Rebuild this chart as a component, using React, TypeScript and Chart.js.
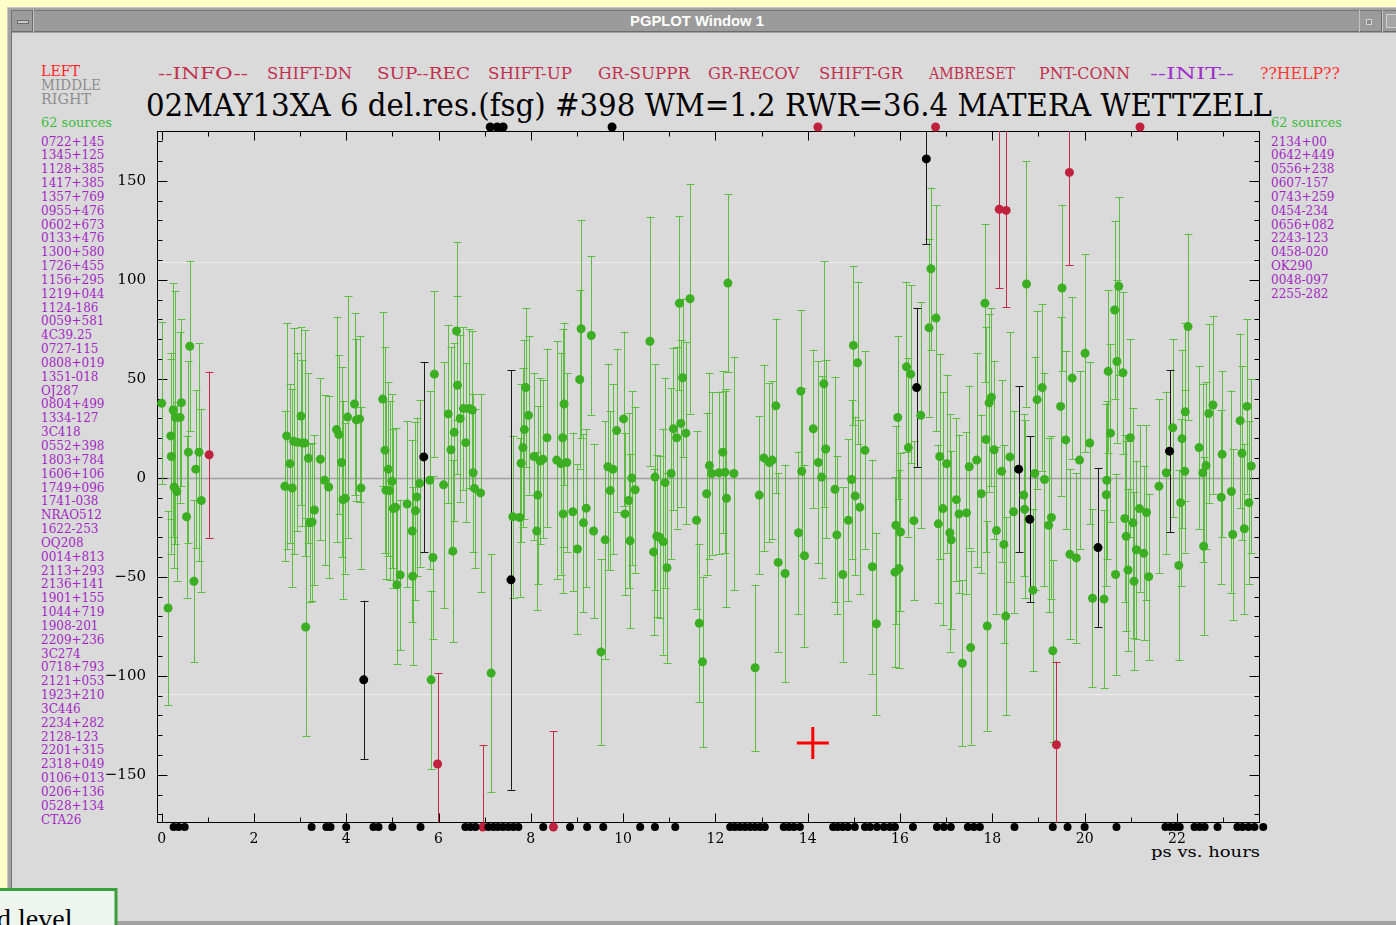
import React, { useEffect, useRef } from "react";
import { Chart, registerables } from "chart.js";

Chart.register(...registerables);

// Plot window limits (ps on y, hours on x)
const Y_MIN = -174.3;
const Y_MAX = 175.2;
const X_MIN = -0.1;
const X_MAX = 23.8;
const EDGE = 2; // off-scale points are parked just outside the frame
const GUIDE_LEVEL = 109; // light guide lines at +/- this residual

// Good (weighted) observations: time, residual, formal error
const greenHours = [
  0.0, 0.14, 0.2, 0.21, 0.25, 0.27, 0.3, 0.33, 0.4, 0.43,
  0.54, 0.58, 0.61, 0.7, 0.74, 0.81, 0.86, 2.67, 2.71, 2.78,
  2.83, 2.86, 2.94, 3.02, 3.05, 3.1, 3.12, 3.18, 3.21, 3.26,
  3.31, 3.44, 3.53, 3.62, 3.79, 3.84, 3.9, 3.93, 3.98, 4.03,
  4.18, 4.22, 4.29, 4.32, 4.79, 4.84, 4.86, 4.91, 4.94, 4.99,
  5.02, 5.07, 5.1, 5.17, 5.32, 5.43, 5.44, 5.5, 5.53, 5.59,
  5.81, 5.84, 5.88, 5.91, 6.11, 6.21, 6.27, 6.31, 6.34, 6.39,
  6.41, 6.47, 6.54, 6.59, 6.67, 6.73, 6.75, 6.78, 6.91, 7.14,
  7.61, 7.76, 7.79, 7.83, 7.86, 7.89, 7.95, 8.07, 8.13, 8.15,
  8.2, 8.26, 8.35, 8.56, 8.65, 8.69, 8.7, 8.72, 8.78, 8.91,
  9.01, 9.06, 9.09, 9.14, 9.2, 9.31, 9.36, 9.52, 9.61, 9.67,
  9.72, 9.78, 9.86, 10.01, 10.04, 10.12, 10.15, 10.19, 10.26, 10.58,
  10.66, 10.69, 10.73, 10.79, 10.87, 10.91, 10.95, 11.04, 11.09, 11.16,
  11.22, 11.25, 11.29, 11.36, 11.45, 11.59, 11.65, 11.72, 11.81, 11.87,
  11.92, 12.08, 12.16, 12.21, 12.24, 12.27, 12.4, 12.86, 12.95, 13.05,
  13.17, 13.23, 13.31, 13.36, 13.51, 13.8, 13.85, 13.87, 13.93, 14.12,
  14.23, 14.3, 14.35, 14.39, 14.59, 14.63, 14.76, 14.88, 14.95, 14.99,
  15.03, 15.08, 15.13, 15.24, 15.4, 15.49, 15.89, 15.91, 15.95, 15.98,
  16.01, 16.14, 16.18, 16.23, 16.3, 16.45, 16.63, 16.67, 16.78, 16.83,
  16.86, 16.93, 17.01, 17.08, 17.11, 17.22, 17.28, 17.35, 17.44, 17.5,
  17.53, 17.66, 17.76, 17.84, 17.86, 17.89, 17.93, 17.98, 18.04, 18.09,
  18.2, 18.25, 18.29, 18.38, 18.46, 18.68, 18.7, 18.74, 18.88, 18.92,
  18.97, 19.08, 19.13, 19.22, 19.28, 19.31, 19.48, 19.51, 19.59, 19.68,
  19.73, 19.82, 19.89, 20.01, 20.11, 20.17, 20.42, 20.47, 20.48, 20.51,
  20.56, 20.65, 20.67, 20.7, 20.74, 20.83, 20.87, 20.9, 20.94, 20.99,
  21.05, 21.07, 21.12, 21.19, 21.28, 21.34, 21.39, 21.61, 21.77, 21.91,
  22.04, 22.08, 22.11, 22.17, 22.18, 22.24, 22.48, 22.56, 22.58, 22.63,
  22.69, 22.78, 22.96, 22.98, 23.18, 23.21, 23.37, 23.41, 23.46, 23.52, 23.56, 23.61,
];
const greenValues = [
  37.7, -65.7, 21.2, 10.8, 34.3, -4.6, 30.5, -6.9, 30.5, 38.0,
  -19.6, 13.0, 66.5, -52.2, 4.4, 13.0, -11.4, -4.2, 21.2, 7.2,
  -5.1, 18.5, 18.0, 31.2, 17.6, 17.6, -75.3, 9.9, -22.7, -22.3,
  -16.2, 9.4, -1.2, -4.6, 24.4, 21.9, 7.8, -11.0, -10.3, 30.7,
  37.3, 29.3, 29.8, -5.1, 39.8, 14.0, -6.2, 4.4, -6.4, -1.7,
  -15.5, -14.8, -54.0, -49.0, -13.2, -26.8, -49.7, -16.6, -9.6, -2.8,
  -1.2, -102.0, -40.2, 52.4, -3.5, 32.3, 14.2, -37.0, 23.0, 74.2,
  46.8, 30.0, 35.0, 17.8, 35.0, 34.3, 2.6, -5.3, -7.6, -98.6,
  -19.6, -20.0, 7.4, 15.3, 24.4, 45.6, 31.6, 10.8, -26.8, -8.7,
  8.5, 9.4, 20.3, 9.0, 7.2, 20.3, -18.2, 37.3, 7.8, -17.1,
  -35.9, 49.7, 75.3, -22.7, -15.3, 71.9, -26.8, -87.9, -31.3, 5.6,
  -6.4, 4.4, 23.9, 29.8, -18.2, -11.4, -31.8, -0.1, -6.0, 69.0,
  -37.4, 0.4, -29.5, -30.0, -32.2, -2.4, -45.4, 2.2, 24.8, 20.3,
  88.2, 27.5, 50.6, 22.6, 90.5, -21.4, -73.4, -92.9, -8.0, 6.2,
  2.2, 2.6, 13.0, 2.9, -10.3, 98.4, 2.2, -95.9, -8.7, 10.1,
  7.8, 9.0, 36.4, -42.7, -48.3, -27.7, 43.8, 3.3, -39.3, 24.8,
  7.8, 0.4, 47.5, 14.6, -5.8, -28.8, -48.8, -21.4, -0.8, 66.9,
  -9.1, 58.1, -14.8, 13.9, -44.9, -73.7, -47.6, -23.9, 30.5, -45.8,
  -27.3, 56.1, 15.3, 52.4, -21.6, 31.6, 75.8, 105.6, 80.7, -23.2,
  10.8, -15.5, 7.2, -27.7, -31.3, -11.0, -18.2, -93.6, -17.7, 5.6,
  -85.7, 9.0, -8.0, 88.2, 19.4, -74.8, 37.9, 40.7, 14.2, -26.6,
  3.3, -33.6, -69.8, 10.6, -17.1, -8.7, -15.9, 97.9, -56.7, 2.2,
  39.5, 45.6, -0.8, -23.9, -20.0, -87.3, 36.1, 95.9, 19.2, -38.6,
  50.4, -40.4, 9.0, 62.9, 17.6, -60.8, -61.2, -8.5, -1.2, 53.8,
  22.6, 84.8, -48.8, 58.8, 96.8, 53.1, -20.5, -29.5, -46.5, 20.3,
  -22.7, -52.2, -36.3, -15.5, -38.1, -17.5, -49.9, -4.2, 2.6, 25.3,
  -44.2, -12.5, 19.8, 3.3, 33.4, 76.4, 15.3, 2.6, -34.5, 6.2,
  32.5, 36.8, -9.8, 11.9, -6.9, -28.6, 28.9, 12.4, -25.7, 36.1, -12.5, 6.0,
];
const greenErrors = [
  41, 49, 42, 49, 64, 41, 64, 45, 43, 42,
  41, 46, 43, 41, 40, 55, 46, 38, 57, 40,
  50, 57, 45, 45, 42, 57, 55, 43, 40, 40,
  38, 41, 43, 46, 57, 40, 48, 50, 38, 61,
  46, 41, 42, 41, 44, 52, 45, 44, 45, 44,
  40, 40, 40, 38, 42, 46, 45, 45, 40, 42,
  45, 45, 41, 42, 62, 45, 52, 46, 45, 45,
  45, 42, 41, 40, 40, 40, 40, 40, 50, 60,
  41, 40, 40, 40, 45, 40, 40, 42, 40, 45,
  42, 40, 45, 60, 56, 55, 40, 41, 45, 40,
  43, 45, 55, 45, 40, 40, 44, 47, 60, 52,
  40, 43, 41, 44, 41, 44, 44, 44, 42, 63,
  42, 57, 41, 41, 57, 53, 48, 43, 41, 46,
  44, 42, 40, 46, 58, 45, 40, 43, 41, 47,
  41, 41, 41, 41, 55, 45, 59, 42, 40, 47,
  40, 40, 44, 45, 55, 41, 41, 42, 46, 40,
  51, 51, 62, 45, 57, 40, 44, 41, 40, 40,
  40, 41, 44, 50, 54, 46, 48, 50, 41, 50,
  40, 43, 45, 45, 40, 57, 45, 41, 57, 40,
  52, 59, 45, 60, 45, 41, 40, 42, 41, 41,
  49, 54, 40, 40, 57, 53, 45, 45, 45, 42,
  46, 50, 50, 63, 51, 41, 45, 62, 41, 59,
  45, 42, 54, 44, 41, 46, 45, 42, 45, 43,
  41, 43, 45, 50, 41, 45, 45, 46, 40, 41,
  45, 45, 51, 41, 45, 41, 42, 48, 41, 50,
  58, 45, 45, 42, 44, 44, 42, 44, 41, 45,
  48, 42, 45, 41, 45, 47, 41, 45, 45, 42,
  45, 45, 44, 42, 51, 43, 44, 44, 43, 44, 41, 44,
];

// Unweighted observations
const blackHours = [4.38, 5.68, 7.57, 16.36, 16.57, 18.57, 18.81, 20.29, 21.84];
const blackValues = [-102.0, 10.6, -51.5, 45.6, 161.1, 4.4, -20.9, -35.2, 13.5];
const blackErrors = [40, 48, 106, 40, 43, 42, 42, 40, 41];

// Suppressed observations (two of them fall below the plotted range)
const redHours = [1.03, 5.98, 6.96, 8.49, 18.15, 18.3, 19.39, 19.67];
const redValues = [11.7, -144.5, -190.0, -190.0, 135.7, 135.1, -134.8, 154.3];
const redErrors = [42, 46, 55, 62, 40, 49, 42, 47];

// Observations above the plotted range
const aboveBlackHours = [7.12, 7.27, 7.4, 9.76];
const aboveRedHours = [14.22, 16.77, 21.2];

// Scan markers along the time axis
const scanHours = [
  0.26, 0.37, 0.5, 3.25, 3.57, 3.66, 4.0, 4.59, 4.7, 5.0,
  5.61, 6.58, 6.69, 6.8, 7.08, 7.19, 7.29, 7.4, 7.51, 7.62,
  7.73, 8.27, 8.85, 9.22, 9.57, 10.37, 10.69, 11.13, 12.32, 12.42,
  12.53, 12.64, 12.75, 12.86, 12.97, 13.07, 13.48, 13.59, 13.7, 13.83,
  14.55, 14.65, 14.76, 14.87, 15.02, 15.24, 15.35, 15.5, 15.65, 15.78,
  15.89, 16.28, 16.8, 16.95, 17.1, 17.47, 17.6, 17.73, 18.48, 19.31,
  19.63, 20.0, 20.69, 21.75, 21.86, 21.97, 22.06, 22.38, 22.49, 22.6,
  22.88, 23.31, 23.42, 23.55, 23.68, 23.87,
];

// Cursor position
const cursorHours = [14.11];
const cursorValues = [-133.9];

const xTickValues = [0, 2, 4, 6, 8, 10, 12, 14, 16, 18, 20, 22];
const yTickValues = [-150, -100, -50, 0, 50, 100, 150];

const leftSources = [
  "0722+145", "1345+125", "1128+385", "1417+385", "1357+769", "0955+476", "0602+673",
  "0133+476", "1300+580", "1726+455", "1156+295", "1219+044", "1124-186", "0059+581",
  "4C39.25", "0727-115", "0808+019", "1351-018", "OJ287", "0804+499", "1334-127",
  "3C418", "0552+398", "1803+784", "1606+106", "1749+096", "1741-038", "NRAO512",
  "1622-253", "OQ208", "0014+813", "2113+293", "2136+141", "1901+155", "1044+719",
  "1908-201", "2209+236", "3C274", "0718+793", "2121+053", "1923+210", "3C446",
  "2234+282", "2128-123", "2201+315", "2318+049", "0106+013", "0206+136", "0528+134",
  "CTA26",
];
const rightSources = [
  "2134+00", "0642+449", "0556+238", "0607-157", "0743+259", "0454-234",
  "0656+082", "2243-123", "0458-020", "OK290", "0048-097", "2255-282",
];

const menuLabels = [
  "--INFO--", "SHIFT-DN", "SUP--REC", "SHIFT-UP", "GR-SUPPR", "GR-RECOV",
  "SHIFT-GR", "AMBRESET", "PNT-CONN", "--INIT--", "??HELP??",
];
const titleText = "02MAY13XA 6 del.res.(fsg) #398 WM=1.2 RWR=36.4 MATERA WETTZELL";
const sourceCountText = "62 sources";

// ---- drawing helpers ----
const MENU_SPANS: [number, number][] = [
  [158, 248], [267, 352], [377, 470], [488, 572], [598, 690], [708, 799],
  [819, 903], [929, 1015], [1039, 1130], [1150, 1234], [1260, 1340],
];
const menuColor = (label: string) =>
  label === "--INIT--" ? "#a030cc" : label === "??HELP??" ? "#ff3434" : "#c2304e";

const clampToFrame = (v: number) =>
  v > Y_MAX ? Y_MAX + EDGE : v < Y_MIN ? Y_MIN - EDGE : v;

const withErrors = (hours: number[], values: number[], errors: number[]) =>
  hours.map((h, i) => ({ x: h, y: clampToFrame(values[i]), v: values[i], e: errors[i] }));

const frameAndBars = {
  id: "frameAndBars",
  beforeDatasetsDraw(chart: any) {
    const { ctx, chartArea: a } = chart;
    const xs = chart.scales.x;
    const ys = chart.scales.y;
    ctx.save();

    const hline = (v: number, color: string, w: number) => {
      const py = Math.round(ys.getPixelForValue(v)) + 0.5;
      ctx.strokeStyle = color;
      ctx.lineWidth = w;
      ctx.beginPath();
      ctx.moveTo(a.left, py);
      ctx.lineTo(a.right, py);
      ctx.stroke();
    };
    hline(GUIDE_LEVEL, "#e8e8e8", 1.5);
    hline(-GUIDE_LEVEL, "#e8e8e8", 1.5);
    hline(0, "#a0a0a0", 1.5);

    // frame with inward ticks
    ctx.strokeStyle = "#000";
    ctx.lineWidth = 1;
    const L = Math.round(a.left) + 0.5;
    const R = Math.round(a.right) - 0.5;
    const T = Math.round(a.top) + 0.5;
    const B = Math.round(a.bottom) - 0.5;
    ctx.strokeRect(L, T, R - L, B - T);
    ctx.beginPath();
    for (let v = -170; v <= 170; v += 10) {
      const py = Math.round(ys.getPixelForValue(v)) + 0.5;
      const len = v % 50 === 0 ? 10 : 5;
      ctx.moveTo(L, py);
      ctx.lineTo(L + len, py);
      ctx.moveTo(R, py);
      ctx.lineTo(R - len, py);
    }
    for (let h = 0; h <= 23; h++) {
      const px = Math.round(xs.getPixelForValue(h)) + 0.5;
      const len = h % 2 === 0 ? 9 : 5;
      ctx.moveTo(px, B);
      ctx.lineTo(px, B - len);
      ctx.moveTo(px, T);
      ctx.lineTo(px, T + len);
    }
    ctx.stroke();

    // error bars
    chart.data.datasets.forEach((ds: any) => {
      if (!ds.errorColor) return;
      ctx.strokeStyle = ds.errorColor;
      ctx.lineWidth = 1;
      ctx.beginPath();
      ds.data.forEach((p: any) => {
        const px = Math.round(xs.getPixelForValue(p.x)) + 0.5;
        const hi = ys.getPixelForValue(p.v + p.e);
        const lo = ys.getPixelForValue(p.v - p.e);
        const t = Math.max(hi, a.top);
        const b = Math.min(lo, a.bottom);
        if (b <= t) return;
        ctx.moveTo(px, t);
        ctx.lineTo(px, b);
        if (hi >= a.top) {
          const y = Math.round(hi) + 0.5;
          ctx.moveTo(px - 4, y);
          ctx.lineTo(px + 4, y);
        }
        if (lo <= a.bottom) {
          const y = Math.round(lo) + 0.5;
          ctx.moveTo(px - 4, y);
          ctx.lineTo(px + 4, y);
        }
      });
      ctx.stroke();
    });
    ctx.restore();
  },
};

const SERIF = "DejaVu Serif";

export default function App() {
  const canvasRef = useRef<HTMLCanvasElement | null>(null);

  useEffect(() => {
    const canvas = canvasRef.current;
    if (!canvas) return;
    const dot = (color: string, radius: number) => ({
      pointRadius: radius,
      pointBackgroundColor: color,
      pointBorderColor: color,
      pointBorderWidth: 0,
      pointHoverRadius: radius,
      showLine: false,
      clip: false as any,
    });
    const chart = new Chart(canvas, {
      type: "scatter",
      data: {
        datasets: [
          {
            label: "scans",
            data: scanHours.map((h) => ({ x: h, y: Y_MIN - EDGE })),
            ...dot("#000000", 4),
          },
          {
            label: "good",
            data: withErrors(greenHours, greenValues, greenErrors),
            errorColor: "#5dbd40",
            ...dot("#3cae22", 4.5),
          } as any,
          {
            label: "unweighted",
            data: withErrors(blackHours, blackValues, blackErrors),
            errorColor: "#1a1a1a",
            ...dot("#000000", 4.5),
          } as any,
          {
            label: "suppressed",
            data: withErrors(redHours, redValues, redErrors),
            errorColor: "#c62b46",
            ...dot("#c0223e", 4.5),
          } as any,
          {
            label: "above range (unweighted)",
            data: aboveBlackHours.map((h) => ({ x: h, y: Y_MAX + EDGE })),
            ...dot("#000000", 4.5),
          },
          {
            label: "above range (suppressed)",
            data: aboveRedHours.map((h) => ({ x: h, y: Y_MAX + EDGE })),
            ...dot("#c0223e", 4.5),
          },
          {
            label: "cursor",
            data: cursorHours.map((h, i) => ({ x: h, y: cursorValues[i] })),
            pointStyle: "cross",
            pointRadius: 16,
            pointBorderColor: "#ff0000",
            pointBorderWidth: 3,
            showLine: false,
          },
        ] as any,
      },
      options: {
        responsive: false,
        animation: false,
        events: [],
        layout: { padding: { left: 87, right: 136, top: 131, bottom: 72 } },
        plugins: {
          legend: { display: false },
          tooltip: { enabled: false },
        },
        scales: {
          x: {
            type: "linear",
            min: X_MIN,
            max: X_MAX,
            grid: { display: false, drawTicks: false },
            border: { display: false },
            afterBuildTicks: (s: any) => {
              s.ticks = xTickValues.map((v) => ({ value: v }));
            },
            afterFit: (s: any) => {
              s.height = 30;
            },
            ticks: {
              autoSkip: false,
              maxRotation: 0,
              padding: 8,
              color: "#000",
              font: { family: SERIF, size: 14 },
            },
          },
          y: {
            type: "linear",
            min: Y_MIN,
            max: Y_MAX,
            grid: { display: false, drawTicks: false },
            border: { display: false },
            afterBuildTicks: (s: any) => {
              s.ticks = yTickValues.map((v) => ({ value: v }));
            },
            afterFit: (s: any) => {
              s.width = 70;
            },
            ticks: {
              padding: 11,
              color: "#000",
              font: { family: SERIF, size: 15 },
              callback: (v: any) => String(v).replace("-", "\u2212"),
            },
          },
        },
      } as any,
      plugins: [frameAndBars],
    });
    return () => chart.destroy();
  }, []);

  const listStep = 13.84;

  return (
    <div
      style={{
        position: "absolute",
        left: 0,
        top: 0,
        width: 1396,
        height: 925,
        overflow: "hidden",
      }}
    >
      <svg width={1396} height={925} style={{ position: "absolute", left: 0, top: 0 }}>
        <rect x={0} y={0} width={1396} height={925} fill="#fefec9" />
        <rect x={7} y={7} width={1389} height={918} fill="#a3a3a3" />
        <line x1={7.5} y1={7} x2={7.5} y2={925} stroke="#c8c8c8" />
        <line x1={7} y1={7.5} x2={1396} y2={7.5} stroke="#c8c8c8" />
        <line x1={11.5} y1={10} x2={11.5} y2={925} stroke="#727272" />
        {/* title bar */}
        <rect x={12} y={10} width={1384} height={22} fill="#9b9b9b" />
        <line x1={12} y1={10.5} x2={1396} y2={10.5} stroke="#7a7a7a" />
        <line x1={12} y1={31.5} x2={1396} y2={31.5} stroke="#6c6c6c" />
        <line x1={32.5} y1={10} x2={32.5} y2={32} stroke="#6c6c6c" />
        <line x1={33.5} y1={10} x2={33.5} y2={32} stroke="#c2c2c2" />
        <rect x={17.5} y={20.5} width={11} height={3} fill="#cacaca" stroke="#6a6a6a" />
        <line x1={1359.5} y1={10} x2={1359.5} y2={32} stroke="#c2c2c2" />
        <rect x={1366.5} y={19.5} width={5} height={5} fill="#8a8a8a" stroke="#d2d2d2" />
        <line x1={1381.5} y1={10} x2={1381.5} y2={32} stroke="#6c6c6c" />
        <line x1={1382.5} y1={10} x2={1382.5} y2={32} stroke="#c2c2c2" />
        <rect x={1386.5} y={14.5} width={14} height={13} fill="#a6a6a6" stroke="#cfcfcf" />
        <text
          x={630}
          y={26}
          fill="#ffffff"
          fontFamily="Liberation Sans"
          fontWeight="bold"
          fontSize={14}
          textLength={134}
          lengthAdjust="spacingAndGlyphs"
        >
          PGPLOT Window 1
        </text>
        {/* client area */}
        <rect x={12} y={33} width={1384} height={888} fill="#dadada" />
        <rect x={12} y={921} width={1384} height={4} fill="#a3a3a3" />

        {/* mouse button legend */}
        <text x={41} y={76} fill="#ff2424" fontFamily={SERIF} fontSize={15} textLength={39} lengthAdjust="spacingAndGlyphs">
          LEFT
        </text>
        <text x={41} y={90} fill="#8e8e8e" fontFamily={SERIF} fontSize={15} textLength={60} lengthAdjust="spacingAndGlyphs">
          MIDDLE
        </text>
        <text x={41} y={104} fill="#8e8e8e" fontFamily={SERIF} fontSize={15} textLength={50} lengthAdjust="spacingAndGlyphs">
          RIGHT
        </text>

        {/* menu */}
        {menuLabels.map((m, i) => (
          <text
            key={m}
            x={MENU_SPANS[i][0]}
            y={79}
            fill={menuColor(m)}
            fontFamily={SERIF}
            fontSize={16}
            textLength={MENU_SPANS[i][1] - MENU_SPANS[i][0]}
            lengthAdjust="spacingAndGlyphs"
          >
            {m}
          </text>
        ))}

        {/* title */}
        <text
          x={146}
          y={116}
          fill="#000"
          fontFamily={SERIF}
          fontSize={31}
          textLength={1126}
          lengthAdjust="spacingAndGlyphs"
        >
          {titleText}
        </text>

        {/* source lists */}
        <text x={41} y={127} fill="#3cbc3c" fontFamily={SERIF} fontSize={12} textLength={71} lengthAdjust="spacingAndGlyphs">
          {sourceCountText}
        </text>
        <text x={1271} y={127} fill="#3cbc3c" fontFamily={SERIF} fontSize={12} textLength={71} lengthAdjust="spacingAndGlyphs">
          {sourceCountText}
        </text>
        {leftSources.map((s, i) => (
          <text key={"l" + i} x={41} y={145.5 + i * listStep} fill="#a326c4" fontFamily={SERIF} fontSize={12}>
            {s}
          </text>
        ))}
        {rightSources.map((s, i) => (
          <text key={"r" + i} x={1271} y={145.5 + i * listStep} fill="#a326c4" fontFamily={SERIF} fontSize={12}>
            {s}
          </text>
        ))}

        {/* axis caption */}
        <text
          x={1151}
          y={857}
          fill="#000"
          fontFamily={SERIF}
          fontSize={14}
          textLength={109}
          lengthAdjust="spacingAndGlyphs"
        >
          ps vs. hours
        </text>

        {/* neighbouring window peeking in */}
        <rect x={-10} y={889.5} width={126} height={60} fill="#eef5ee" stroke="#3b9f3b" strokeWidth={3} />
        <text x={-3} y={928} fill="#000" fontFamily="Liberation Serif" fontSize={28}>
          d level
        </text>
      </svg>
      <canvas
        ref={canvasRef}
        width={1396}
        height={925}
        style={{ position: "absolute", left: 0, top: 0, width: 1396, height: 925 }}
      />
    </div>
  );
}
